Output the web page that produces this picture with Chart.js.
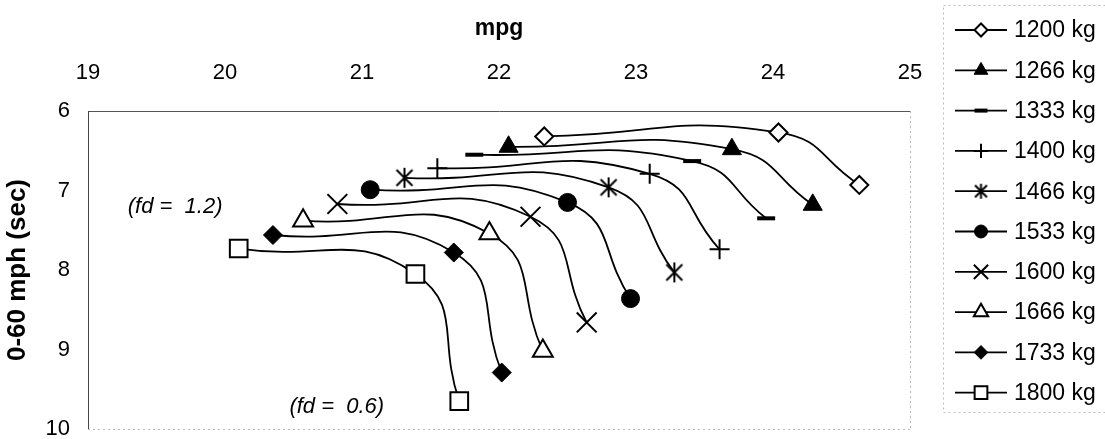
<!DOCTYPE html>
<html>
<head>
<meta charset="utf-8">
<script src="https://cdn.jsdelivr.net/npm/chart.js@4/dist/chart.umd.min.js"></script>
<style>
  body { margin: 0; background: #fff; }
  #wrap { width: 1105px; height: 439px; position: relative; }
</style>
</head>
<body>
<div id="wrap"><canvas id="chart"></canvas></div>
<script>
// vehicle mass for each curve
const massLabels = ['1200 kg', '1266 kg', '1333 kg', '1400 kg', '1466 kg', '1533 kg', '1600 kg', '1666 kg', '1733 kg', '1800 kg'];

// fd = 1.2 end (left), middle point, fd = 0.6 end (bottom)
const mpgFd12 = [22.33, 22.07, 21.82, 21.55, 21.31, 21.06, 20.82, 20.57, 20.35, 20.10];
const secFd12 = [6.32, 6.45, 6.55, 6.72, 6.84, 6.99, 7.17, 7.38, 7.56, 7.73];
const mpgMid = [24.04, 23.70, 23.41, 23.10, 22.80, 22.50, 22.23, 21.93, 21.67, 21.39];
const secMid = [6.27, 6.48, 6.63, 6.79, 6.96, 7.15, 7.33, 7.54, 7.78, 8.05];
const mpgFd06 = [24.63, 24.29, 23.95, 23.61, 23.28, 22.96, 22.64, 22.32, 22.02, 21.71];
const secFd06 = [6.93, 7.18, 7.35, 7.74, 8.03, 8.36, 8.66, 9.02, 9.29, 9.65];

const xTicks = [19, 20, 21, 22, 23, 24, 25];
const yTicks = [6, 7, 8, 9, 10];

const FONT = "'Liberation Sans', Arial, sans-serif";
Chart.defaults.font.family = FONT;
Chart.defaults.color = '#000';

// excel-like asterisk: vertical bar plus an X
function makeStar(size, lw) {
  const c = document.createElement('canvas');
  c.width = size; c.height = size;
  const g = c.getContext('2d');
  const m = size / 2, r = size / 2 - 1;
  g.strokeStyle = '#000'; g.lineWidth = lw;
  g.beginPath();
  g.moveTo(m, m - r); g.lineTo(m, m + r);
  const d = r * 0.8;
  g.moveTo(m - d, m - d); g.lineTo(m + d, m + d);
  g.moveTo(m + d, m - d); g.lineTo(m - d, m + d);
  g.stroke();
  return c;
}
const starBig = makeStar(22, 2);
const starSmall = makeStar(17, 2);

// marker look per series
const markers = [
  { style: 'rectRot', r: 9, fill: '#fff', bw: 2 },
  { style: 'triangle', r: 11, fill: '#000', bw: 1 },
  { style: 'line', r: 9, fill: '#000', bw: 4 },
  { style: 'cross', r: 10, fill: '#000', bw: 2 },
  { style: starBig, r: 10, fill: '#000', bw: 2, small: starSmall },
  { style: 'circle', r: 9, fill: '#000', bw: 1 },
  { style: 'crossRot', r: 14, fill: '#000', bw: 2 },
  { style: 'triangle', r: 11.5, fill: '#fff', bw: 2 },
  { style: 'rectRot', r: 9.5, fill: '#000', bw: 1 },
  { style: 'rect', r: 12.5, fill: '#fff', bw: 2 }
];

const datasets = massLabels.map((label, i) => ({
  label: label,
  data: [
    { x: mpgFd12[i], y: secFd12[i] },
    { x: mpgMid[i], y: secMid[i] },
    { x: mpgFd06[i], y: secFd06[i] }
  ],
  showLine: true,
  tension: 0.5,
  borderColor: '#000',
  borderWidth: 1.8,
  pointStyle: markers[i].style,
  pointRadius: markers[i].r,
  pointBackgroundColor: markers[i].fill,
  pointBorderColor: '#000',
  pointBorderWidth: markers[i].bw,
  legendStyle: markers[i].small || markers[i].style
}));

const framePlugin = {
  id: 'frame',
  beforeDatasetsDraw(chart) {
    const { ctx, chartArea: a } = chart;
    ctx.save();
    ctx.strokeStyle = '#b8b8b8';
    ctx.lineWidth = 1;
    ctx.setLineDash([2, 3]);
    ctx.beginPath();
    ctx.moveTo(a.left, a.bottom + 0.5); ctx.lineTo(a.right, a.bottom + 0.5);
    ctx.moveTo(a.right + 0.5, a.top); ctx.lineTo(a.right + 0.5, a.bottom);
    ctx.stroke();
    ctx.restore();
  },
  afterDraw(chart) {
    const { ctx, scales } = chart;
    ctx.save();
    // notes
    ctx.font = 'italic 22px ' + FONT;
    ctx.fillStyle = '#000';
    ctx.textBaseline = 'middle';
    ctx.textAlign = 'left';
    ctx.fillText('(fd =  1.2)', scales.x.getPixelForValue(19.29), scales.y.getPixelForValue(7.21));
    ctx.fillText('(fd =  0.6)', scales.x.getPixelForValue(20.47), scales.y.getPixelForValue(9.72));

    // legend
    ctx.strokeStyle = '#bdbdbd';
    ctx.lineWidth = 1;
    ctx.setLineDash([2, 3]);
    ctx.strokeRect(943.5, 5.5, 175, 407);
    ctx.setLineDash([]);
    ctx.font = '23px ' + FONT;
    chart.data.datasets.forEach((ds, i) => {
      const y = 30 + i * 40.3;
      ctx.strokeStyle = '#000';
      ctx.lineWidth = 1.8;
      ctx.beginPath();
      ctx.moveTo(955, y); ctx.lineTo(1007, y);
      ctx.stroke();
      ctx.fillStyle = ds.pointBackgroundColor;
      ctx.strokeStyle = '#000';
      ctx.lineWidth = ds.pointBorderWidth;
      Chart.helpers.drawPoint(ctx, {
        pointStyle: ds.legendStyle,
        radius: ds.pointRadius * 0.72,
        borderWidth: ds.pointBorderWidth,
        rotation: 0
      }, 981, y);
      ctx.fillStyle = '#000';
      ctx.fillText(ds.label, 1014, y + 1);
    });
    ctx.restore();
  }
};

new Chart(document.getElementById('chart'), {
  type: 'scatter',
  data: { datasets: datasets },
  options: {
    responsive: true,
    maintainAspectRatio: false,
    animation: false,
    events: [],
    layout: { autoPadding: false, padding: { top: 0, left: 0, right: 195, bottom: 10 } },
    plugins: {
      legend: { display: false },
      tooltip: { enabled: false }
    },
    scales: {
      x: {
        type: 'linear',
        position: 'top',
        min: xTicks[0],
        max: xTicks[xTicks.length - 1],
        afterBuildTicks: s => { s.ticks = xTicks.map(v => ({ value: v })); },
        afterFit: s => { s.height = 111; s.paddingLeft = 0; s.paddingRight = 0; },
        grid: { display: false, drawTicks: false },
        border: { display: true, color: '#555', width: 1 },
        ticks: { font: { size: 22 }, padding: 25, maxRotation: 0 },
        title: { display: true, text: 'mpg', font: { size: 23, weight: 'bold' }, padding: { top: 15, bottom: 0 } }
      },
      y: {
        type: 'linear',
        reverse: true,
        min: yTicks[0],
        max: yTicks[yTicks.length - 1],
        afterBuildTicks: s => { s.ticks = yTicks.map(v => ({ value: v })); },
        afterFit: s => { s.width = 88; s.paddingTop = 0; s.paddingBottom = 0; },
        grid: { display: false, drawTicks: false },
        border: { display: true, color: '#444', width: 1 },
        ticks: { font: { size: 22 }, padding: 18 },
        title: { display: true, text: '0-60 mph (sec)', font: { size: 26, weight: 'bold' }, padding: { top: 2, bottom: 0 } }
      }
    }
  },
  plugins: [framePlugin]
});
</script>
</body>
</html>
